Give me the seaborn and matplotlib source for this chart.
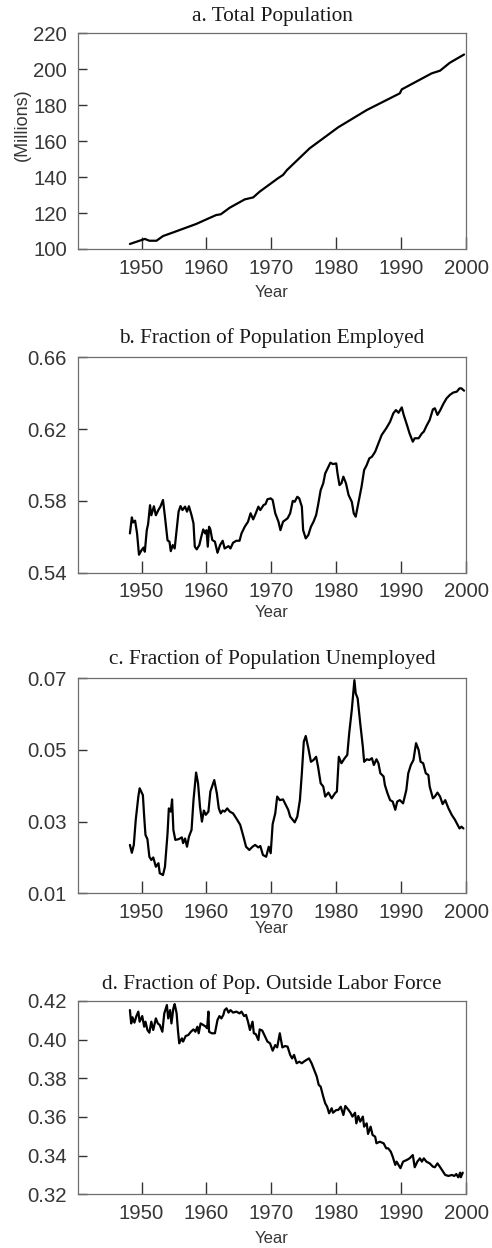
import numpy as np
import pandas as pd
import matplotlib
matplotlib.use("Agg")
import matplotlib.pyplot as plt
import seaborn as sns

# ---------------- data ----------------
pop_years = [1948.2, 1950.5, 1951.2, 1952.3, 1953.3, 1955.0, 1958.4, 1960.0, 1961.5,
             1962.2, 1963.6, 1965.9, 1967.2, 1968.2, 1971.0, 1971.8, 1972.4, 1975.9,
             1980.3, 1984.7, 1989.8, 1990.1, 1994.7, 1996.0, 1997.5, 1999.7]
pop_values = [102.8, 105.6, 104.6, 104.6, 107.2, 109.4, 113.9, 116.5, 118.9,
              119.3, 123.0, 127.6, 128.7, 131.9, 139.3, 141.2, 143.9, 156.0,
              167.7, 177.3, 186.6, 188.8, 197.7, 199.2, 203.6, 208.2]

emp_years = [1948.2, 1948.5, 1948.7, 1949.0, 1949.3, 1949.6, 1950.0, 1950.3, 1950.5, 1950.8,
             1951.0, 1951.3, 1951.5, 1951.9, 1952.2, 1952.6, 1952.9, 1953.3, 1953.6, 1954.0,
             1954.3, 1954.5, 1954.8, 1955.1, 1955.4, 1955.7, 1956.0, 1956.3, 1956.7, 1957.0,
             1957.3, 1957.7, 1958.0, 1958.2, 1958.5, 1958.9, 1959.2, 1959.5, 1959.8, 1960.0,
             1960.2, 1960.4, 1960.6, 1960.9, 1961.3, 1961.7, 1962.1, 1962.5, 1962.8, 1963.4,
             1963.7, 1964.1, 1964.6, 1965.1, 1965.4, 1965.9, 1966.4, 1966.8, 1967.2, 1967.6,
             1968.0, 1968.3, 1968.8, 1969.1, 1969.4, 1969.9, 1970.2, 1970.6, 1971.1, 1971.4,
             1971.8, 1972.5, 1972.9, 1973.3, 1973.6, 1974.0, 1974.3, 1974.7, 1974.9, 1975.3,
             1975.7, 1976.1, 1976.5, 1976.9, 1977.2, 1977.6, 1978.0, 1978.3, 1978.8, 1979.1,
             1979.5, 1980.0, 1980.2, 1980.5, 1980.8, 1981.1, 1981.5, 1981.9, 1982.4, 1982.7,
             1983.0, 1983.4, 1983.9, 1984.3, 1984.7, 1985.1, 1985.5, 1986.0, 1986.5, 1987.0,
             1987.7, 1988.3, 1988.8, 1989.2, 1989.6, 1990.1, 1990.4, 1990.9, 1991.3, 1991.8,
             1992.1, 1992.7, 1993.2, 1993.5, 1993.9, 1994.4, 1994.9, 1995.2, 1995.6, 1996.0,
             1996.5, 1997.0, 1997.5, 1998.0, 1998.6, 1999.0, 1999.3, 1999.7]
emp_values = [0.5619, 0.5708, 0.5680, 0.5690, 0.5620, 0.5500, 0.5526, 0.5540, 0.5517, 0.5637,
              0.5670, 0.5776, 0.5720, 0.5770, 0.5720, 0.5750, 0.5768, 0.5805, 0.5712, 0.5580,
              0.5573, 0.5520, 0.5554, 0.5535, 0.5638, 0.5740, 0.5771, 0.5749, 0.5768, 0.5740,
              0.5770, 0.5720, 0.5675, 0.5545, 0.5530, 0.5554, 0.5600, 0.5641, 0.5619, 0.5637,
              0.5545, 0.5656, 0.5641, 0.5582, 0.5573, 0.5511, 0.5554, 0.5578, 0.5535, 0.5548,
              0.5535, 0.5567, 0.5578, 0.5578, 0.5619, 0.5656, 0.5684, 0.5731, 0.5697, 0.5731,
              0.5768, 0.5749, 0.5777, 0.5782, 0.5809, 0.5814, 0.5805, 0.5731, 0.5684, 0.5637,
              0.5684, 0.5703, 0.5731, 0.5800, 0.5795, 0.5823, 0.5814, 0.5768, 0.5637, 0.5591,
              0.5610, 0.5656, 0.5684, 0.5721, 0.5777, 0.5860, 0.5898, 0.5953, 0.5991, 0.6013,
              0.6005, 0.6009, 0.5953, 0.5888, 0.5898, 0.5935, 0.5898, 0.5833, 0.5795, 0.5731,
              0.5712, 0.5786, 0.5879, 0.5972, 0.6000, 0.6037, 0.6046, 0.6074, 0.6121, 0.6167,
              0.6204, 0.6241, 0.6288, 0.6306, 0.6291, 0.6321, 0.6279, 0.6223, 0.6176, 0.6130,
              0.6149, 0.6149, 0.6176, 0.6186, 0.6217, 0.6251, 0.6310, 0.6316, 0.6279, 0.6303,
              0.6340, 0.6371, 0.6390, 0.6403, 0.6409, 0.6427, 0.6427, 0.6414]

unemp_years = [1948.2, 1948.5, 1948.8, 1949.1, 1949.5, 1949.7, 1950.2, 1950.4, 1950.6, 1950.9,
               1951.2, 1951.5, 1951.8, 1952.2, 1952.6, 1952.8, 1953.3, 1953.6, 1954.0, 1954.2,
               1954.5, 1954.7, 1954.9, 1955.2, 1955.7, 1956.2, 1956.4, 1956.7, 1957.0, 1957.3,
               1957.7, 1958.0, 1958.4, 1958.7, 1959.0, 1959.3, 1959.6, 1959.9, 1960.3, 1960.6,
               1961.2, 1961.6, 1961.9, 1962.2, 1962.5, 1962.8, 1963.2, 1963.6, 1964.1, 1964.6,
               1965.2, 1965.7, 1966.1, 1966.6, 1967.1, 1967.5, 1968.0, 1968.3, 1968.7, 1969.2,
               1969.6, 1969.9, 1970.2, 1970.6, 1970.9, 1971.3, 1971.8, 1972.3, 1972.6, 1972.9,
               1973.3, 1973.6, 1974.0, 1974.4, 1974.7, 1975.0, 1975.3, 1975.7, 1976.1, 1976.5,
               1976.9, 1977.2, 1977.6, 1978.0, 1978.3, 1978.8, 1979.3, 1979.8, 1980.1, 1980.4,
               1980.8, 1981.3, 1981.7, 1982.0, 1982.4, 1982.8, 1983.0, 1983.3, 1983.7, 1984.1,
               1984.3, 1984.7, 1985.1, 1985.5, 1985.8, 1986.2, 1986.5, 1986.8, 1987.3, 1987.5,
               1987.9, 1988.3, 1988.7, 1989.1, 1989.4, 1989.8, 1990.3, 1990.8, 1991.1, 1991.5,
               1991.9, 1992.3, 1992.7, 1993.0, 1993.4, 1993.8, 1994.2, 1994.4, 1994.9, 1995.2,
               1995.6, 1996.0, 1996.4, 1996.8, 1997.3, 1997.8, 1998.3, 1998.7, 1999.0, 1999.3,
               1999.6]
unemp_values = [0.0235, 0.0213, 0.0235, 0.0305, 0.0370, 0.0393, 0.0374, 0.0314, 0.0263, 0.0251,
                0.0202, 0.0193, 0.0200, 0.0174, 0.0184, 0.0156, 0.0151, 0.0174, 0.0267, 0.0337,
                0.0328, 0.0362, 0.0277, 0.0249, 0.0251, 0.0256, 0.0240, 0.0253, 0.0230, 0.0258,
                0.0277, 0.0360, 0.0437, 0.0407, 0.0342, 0.0300, 0.0331, 0.0319, 0.0328, 0.0384,
                0.0416, 0.0379, 0.0337, 0.0323, 0.0331, 0.0328, 0.0337, 0.0328, 0.0323, 0.0309,
                0.0291, 0.0258, 0.0230, 0.0221, 0.0230, 0.0235, 0.0228, 0.0232, 0.0207, 0.0202,
                0.0230, 0.0212, 0.0293, 0.0323, 0.0370, 0.0360, 0.0362, 0.0344, 0.0333, 0.0314,
                0.0305, 0.0298, 0.0314, 0.0360, 0.0435, 0.0523, 0.0539, 0.0505, 0.0467, 0.0472,
                0.0481, 0.0453, 0.0407, 0.0398, 0.0370, 0.0381, 0.0365, 0.0379, 0.0384, 0.0481,
                0.0463, 0.0477, 0.0486, 0.0547, 0.0612, 0.0695, 0.0658, 0.0644, 0.0574, 0.0509,
                0.0467, 0.0474, 0.0472, 0.0477, 0.0458, 0.0474, 0.0463, 0.0435, 0.0426, 0.0402,
                0.0379, 0.0360, 0.0356, 0.0333, 0.0356, 0.0360, 0.0351, 0.0388, 0.0435, 0.0458,
                0.0472, 0.0519, 0.0500, 0.0467, 0.0463, 0.0435, 0.0430, 0.0398, 0.0365, 0.0370,
                0.0381, 0.0370, 0.0349, 0.0360, 0.0337, 0.0319, 0.0305, 0.0291, 0.0281, 0.0286,
                0.0281]

out_years = [1948.2, 1948.4, 1948.6, 1948.9, 1949.2, 1949.5, 1949.7, 1950.1, 1950.4, 1950.6,
             1950.9, 1951.2, 1951.5, 1951.8, 1952.2, 1952.5, 1952.8, 1953.2, 1953.5, 1953.9,
             1954.1, 1954.4, 1954.6, 1954.9, 1955.1, 1955.4, 1955.6, 1955.8, 1956.2, 1956.4,
             1956.8, 1957.2, 1957.6, 1958.0, 1958.3, 1958.6, 1958.8, 1959.1, 1959.5, 1959.9,
             1960.1, 1960.3, 1960.4, 1960.8, 1961.3, 1961.7, 1962.0, 1962.3, 1962.6, 1962.8,
             1963.1, 1963.4, 1963.7, 1964.1, 1964.6, 1965.1, 1965.4, 1965.8, 1966.1, 1966.4,
             1966.7, 1967.1, 1967.3, 1967.6, 1968.0, 1968.2, 1968.6, 1969.0, 1969.4, 1969.8,
             1970.2, 1970.6, 1970.9, 1971.3, 1971.7, 1972.1, 1972.5, 1972.9, 1973.2, 1973.5,
             1973.9, 1974.3, 1974.7, 1975.0, 1975.4, 1975.8, 1976.2, 1976.6, 1977.0, 1977.3,
             1977.6, 1978.0, 1978.3, 1978.6, 1978.9, 1979.3, 1979.5, 1980.0, 1980.3, 1980.7,
             1981.1, 1981.4, 1981.9, 1982.2, 1982.5, 1982.9, 1983.1, 1983.4, 1983.7, 1984.1,
             1984.3, 1984.7, 1984.9, 1985.3, 1985.6, 1986.0, 1986.2, 1986.7, 1987.3, 1987.7,
             1988.0, 1988.4, 1988.7, 1989.1, 1989.3, 1989.6, 1989.9, 1990.3, 1990.9, 1991.3,
             1991.8, 1992.1, 1992.5, 1992.9, 1993.2, 1993.5, 1993.9, 1994.4, 1994.9, 1995.2,
             1995.6, 1995.9, 1996.3, 1996.8, 1997.3, 1997.8, 1998.2, 1998.5, 1998.8, 1999.1,
             1999.2, 1999.5]
out_values = [0.4153, 0.4084, 0.4116, 0.4088, 0.4122, 0.4145, 0.4093, 0.4122, 0.4067, 0.4093,
              0.4050, 0.4036, 0.4093, 0.4050, 0.4110, 0.4084, 0.4076, 0.4041, 0.4136, 0.4179,
              0.4110, 0.4153, 0.4084, 0.4162, 0.4184, 0.4136, 0.4050, 0.3981, 0.4007, 0.3990,
              0.4019, 0.4024, 0.4041, 0.4053, 0.4041, 0.4067, 0.4033, 0.4084, 0.4076, 0.4067,
              0.4059, 0.4145, 0.4041, 0.4033, 0.4033, 0.4102, 0.4122, 0.4110, 0.4128, 0.4153,
              0.4162, 0.4140, 0.4153, 0.4140, 0.4145, 0.4136, 0.4145, 0.4122, 0.4128, 0.4093,
              0.4050, 0.4093, 0.4033, 0.4029, 0.3998, 0.4053, 0.4047, 0.4019, 0.3990, 0.3981,
              0.3943, 0.3972, 0.3960, 0.4033, 0.3960, 0.3967, 0.3964, 0.3921, 0.3903, 0.3921,
              0.3878, 0.3886, 0.3878, 0.3886, 0.3895, 0.3903, 0.3878, 0.3843, 0.3809, 0.3766,
              0.3757, 0.3705, 0.3671, 0.3653, 0.3619, 0.3645, 0.3622, 0.3636, 0.3636, 0.3653,
              0.3610, 0.3657, 0.3636, 0.3622, 0.3602, 0.3622, 0.3567, 0.3605, 0.3576, 0.3602,
              0.3550, 0.3567, 0.3512, 0.3550, 0.3507, 0.3498, 0.3464, 0.3472, 0.3464, 0.3438,
              0.3438, 0.3421, 0.3395, 0.3352, 0.3369, 0.3352, 0.3335, 0.3369, 0.3378, 0.3386,
              0.3403, 0.3340, 0.3369, 0.3386, 0.3369, 0.3386, 0.3369, 0.3360, 0.3343, 0.3340,
              0.3360, 0.3346, 0.3326, 0.3300, 0.3295, 0.3300, 0.3295, 0.3305, 0.3288, 0.3312,
              0.3288, 0.3312]

titles = ["a. Total Population", "b. Fraction of Population Employed",
          "c. Fraction of Population Unemployed", "d. Fraction of Pop. Outside Labor Force"]
x_ticks = [1950, 1960, 1970, 1980, 1990, 2000]
y_ticks_a = [100, 120, 140, 160, 180, 200, 220]
y_ticks_b = [0.54, 0.58, 0.62, 0.66]
y_ticks_c = [0.01, 0.03, 0.05, 0.07]
y_ticks_d = [0.32, 0.34, 0.36, 0.38, 0.40, 0.42]
x_label = "Year"
y_label_a = "(Millions)"

# ---------------- style ----------------
sns.set_theme(style="ticks")
plt.rcParams['font.family'] = ['Liberation Sans', 'DejaVu Sans']

W, H = 492, 1248
fig = plt.figure(figsize=(W / 100, H / 100), dpi=100)
fig.patch.set_facecolor("white")

def axrect(top_px, bot_px, left_px=78, right_px=466):
    return [left_px / W, 1 - bot_px / H, (right_px - left_px) / W, (bot_px - top_px) / H]

panels = [
    (axrect(33.3, 249.0), pop_years, pop_values, y_ticks_a, "{:.0f}", 12, 43),
    (axrect(357.3, 572.7), emp_years, emp_values, y_ticks_b, "{:.2f}", 14, 40),
    (axrect(678.3, 893.3), unemp_years, unemp_values, y_ticks_c, "{:.2f}", 14, 35),
    (axrect(1001.0, 1194.3), out_years, out_values, y_ticks_d, "{:.2f}", 12, 44),
]

text_col = "#363636"
spine_col = "#6e6e6e"

for i, (rect, xs, ys, yt, fmt, tpad_px, xlab_px) in enumerate(panels):
    ax = fig.add_axes(rect)
    df = pd.DataFrame({"year": xs, "value": ys})
    sns.lineplot(data=df, x="year", y="value", ax=ax, color="black", lw=1.6,
                 estimator=None, sort=False)
    ax.set_xlim(1940.2, 2000)
    ax.set_ylim(yt[0], yt[-1])
    ax.set_xticks(x_ticks)
    ax.set_xticklabels([str(t) for t in x_ticks])
    ax.set_yticks(yt)
    ax.set_yticklabels([fmt.format(v) for v in yt])
    ax.tick_params(axis="x", which="major", direction="in", bottom=True, length=9,
                   width=1.0, color="#333333", pad=7, labelsize=14.7, labelcolor=text_col)
    ax.tick_params(axis="y", which="major", direction="in", left=True, length=6.5,
                   width=1.0, color="#333333", pad=8, labelsize=14.7, labelcolor=text_col)
    for s in ax.spines.values():
        s.set_visible(True)
        s.set_color(spine_col)
        s.set_linewidth(0.9)
    ax.set_title(titles[i], family="Liberation Serif", fontsize=15.3,
                 color="#1a1a1a", pad=tpad_px * 0.72)
    ax.set_xlabel(x_label, fontsize=12, color=text_col)
    ax.xaxis.label.set_va("center")
    ax_h_px = rect[3] * H
    ax.xaxis.set_label_coords(0.5, -xlab_px / ax_h_px)
    if i == 0:
        ax.set_ylabel(y_label_a, fontsize=13, color=text_col)
        ax.yaxis.label.set_va("center")
        ax.yaxis.set_label_coords(-(78 - 22) / (rect[2] * W), (249 - 125) / ax_h_px)
    else:
        ax.set_ylabel("")
    ax.grid(False)
    ax.set_facecolor("white")

fig.savefig("out.png", dpi=100, facecolor="white")
